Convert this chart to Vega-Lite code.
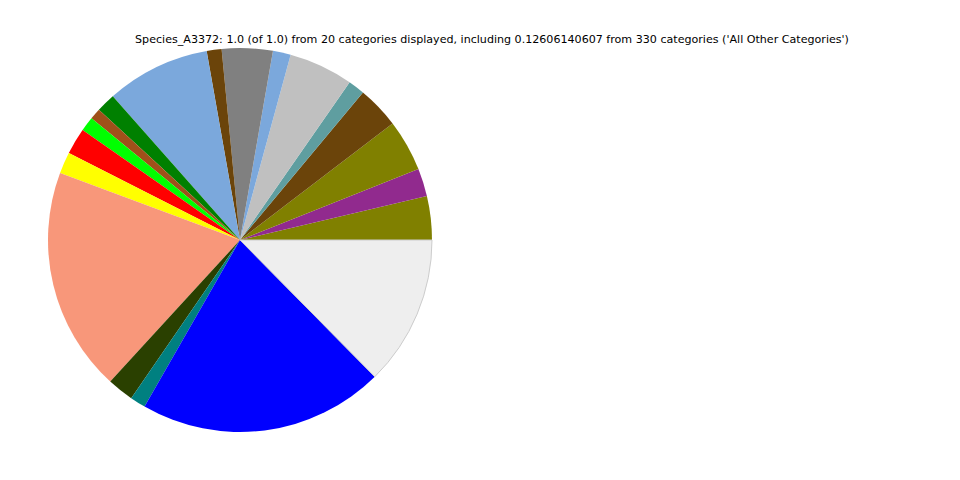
{
  "$schema": "https://vega.github.io/schema/vega-lite/v6.json",
  "width": 480,
  "height": 480,
  "autosize": {"type": "none"},
  "padding": {"left": 0, "top": 0, "right": 480, "bottom": 0},
  "background": "white",
  "title": {
    "text": "Species_A3372: 1.0 (of 1.0) from 20 categories displayed, including 0.12606140607 from 330 categories ('All Other Categories')",
    "font": "DejaVu Sans",
    "fontSize": 11.1,
    "fontWeight": "normal",
    "color": "black",
    "anchor": "middle",
    "frame": "group",
    "baseline": "alphabetic",
    "offset": 0,
    "dx": 252,
    "dy": 54
  },
  "data": {
    "values": [
      {"order": 1, "cat": "Category 1", "frac": 0.0368},
      {"order": 2, "cat": "Category 2", "frac": 0.0234},
      {"order": 3, "cat": "Category 3", "frac": 0.0436},
      {"order": 4, "cat": "Category 4", "frac": 0.0356},
      {"order": 5, "cat": "Category 5", "frac": 0.0139},
      {"order": 6, "cat": "Category 6", "frac": 0.0542},
      {"order": 7, "cat": "Category 7", "frac": 0.0150},
      {"order": 8, "cat": "Category 8", "frac": 0.0428},
      {"order": 9, "cat": "Category 9", "frac": 0.0125},
      {"order": 10, "cat": "Category 10", "frac": 0.0875},
      {"order": 11, "cat": "Category 11", "frac": 0.0161},
      {"order": 12, "cat": "Category 12", "frac": 0.0094},
      {"order": 13, "cat": "Category 13", "frac": 0.0122},
      {"order": 14, "cat": "Category 14", "frac": 0.0222},
      {"order": 15, "cat": "Category 15", "frac": 0.0181},
      {"order": 16, "cat": "Category 16", "frac": 0.1886},
      {"order": 17, "cat": "Category 17", "frac": 0.0222},
      {"order": 18, "cat": "Category 18", "frac": 0.0131},
      {"order": 19, "cat": "Category 19", "frac": 0.2067},
      {"order": 20, "cat": "All Other Categories", "frac": 0.1261}
    ]
  },
  "mark": {"type": "arc", "outerRadius": 192, "strokeWidth": 1},
  "encoding": {
    "theta": {
      "field": "frac",
      "type": "quantitative",
      "stack": true,
      "scale": {"range": [1.5707963, -4.712389]}
    },
    "order": {"field": "order", "type": "quantitative"},
    "color": {
      "field": "cat",
      "type": "nominal",
      "legend": null,
      "scale": {
        "domain": ["Category 1", "Category 2", "Category 3", "Category 4", "Category 5", "Category 6", "Category 7", "Category 8", "Category 9", "Category 10", "Category 11", "Category 12", "Category 13", "Category 14", "Category 15", "Category 16", "Category 17", "Category 18", "Category 19", "All Other Categories"],
        "range": ["#808000", "#912a8e", "#808000", "#6b440a", "#5f9ea0", "#c0c0c0", "#7ba8dc", "#808080", "#6b440a", "#7ba8dc", "#008000", "#a0501a", "#00ff00", "#ff0000", "#ffff00", "#f8977a", "#2a4000", "#008080", "#0000ff", "#eeeeee"]
      }
    },
    "stroke": {
      "condition": {"test": "datum.cat === 'All Other Categories'", "value": "#cccccc"},
      "value": null
    }
  }
}
